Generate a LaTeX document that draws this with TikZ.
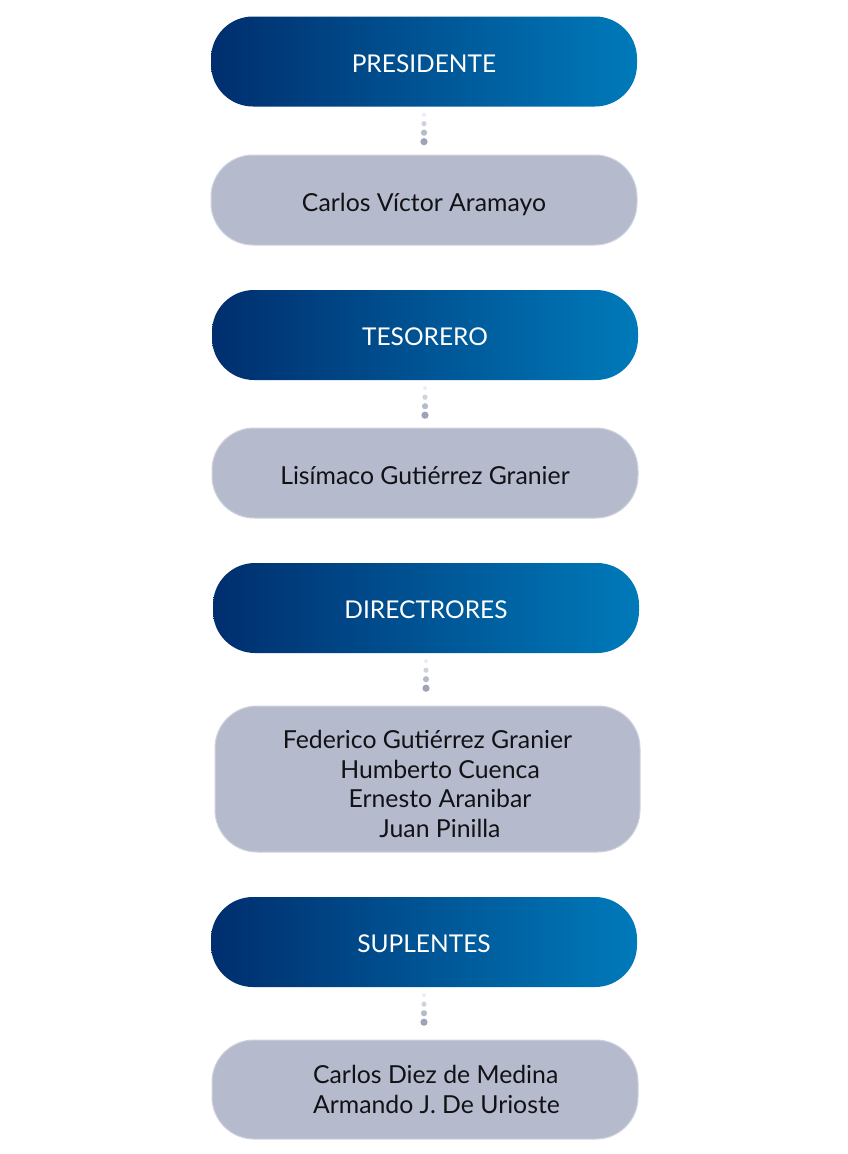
\documentclass[tikz,border=0pt]{standalone}
\usepackage{fontspec}
\setmainfont{Lato}
\usetikzlibrary{calc}
\definecolor{navyL}{RGB}{0,46,110}
\definecolor{blueR}{RGB}{0,122,186}
\definecolor{boxgray}{RGB}{181,186,205}
\definecolor{boxedge}{RGB}{208,211,222}
\definecolor{txtc}{RGB}{18,18,22}
\definecolor{dotA}{RGB}{236,237,241}
\definecolor{dotB}{RGB}{208,211,221}
\definecolor{dotC}{RGB}{182,186,202}
\definecolor{dotD}{RGB}{158,163,184}
\newcommand\linkdots[2]{%
  \fill[dotA] ($(#1.south)+(0,-8)$) circle (2);
  \fill[dotB] ($(#1.south)+(0,-17)$) circle (2.6);
  \fill[dotC] ($(#1.south)+(0,-26)$) circle (3.1);
  \fill[dotD] ($(#1.south)+(0,-35)$) circle (3.6);
}
\begin{document}
\begin{tikzpicture}[x=1pt,y=1pt,
  headbox/.style={rounded corners=42pt, minimum width=426pt, minimum height=90pt,
    inner sep=0pt, left color=navyL, right color=blueR, text=white,
    text height=21pt, text depth=0pt,
    font=\fontsize{24.5}{29.5}\selectfont},
  namebox/.style={rounded corners=42pt, minimum width=426pt, minimum height=90pt,
    inner sep=0pt, fill=boxgray, draw=boxedge, line width=1pt, text=txtc,
    text height=22pt, text depth=0pt,
    font=\fontsize{24.8}{29.5}\selectfont},
  nametext/.style={inner sep=0pt, text=txtc, font=\fontsize{24.8}{29.5}\selectfont}
]
\useasboundingbox (0,0) rectangle (848,-1154);

\node[headbox] (pres) at (424,-61.5) {PRESIDENTE};
\node[namebox] (presn) at (424,-200) {Carlos Víctor Aramayo};
\linkdots{pres}{presn}

\node[headbox] (tes) at (425,-335) {TESORERO};
\node[namebox] (tesn) at (425,-473) {Lisímaco Gutiérrez Granier};
\linkdots{tes}{tesn}

\node[headbox] (dir) at (426,-608) {DIRECTRORES};
\node[namebox, minimum width=425pt, minimum height=146pt] (dirn) at (427.5,-779) {};
\node[nametext, align=center] (dirt) at ([yshift=-5pt]dirn.center) {Federico Gutiérrez Granier\\
\hspace*{25pt}Humberto Cuenca\\
\hspace*{25pt}Ernesto Aranibar\\
\hspace*{25pt}Juan Pinilla};
\linkdots{dir}{dirn}

\node[headbox] (sup) at (424,-942) {SUPLENTES};
\node[namebox, minimum height=99pt] (supn) at (425,-1089.5) {};
\node[nametext, align=left] (supt) at ([xshift=11.5pt]supn.center) {Carlos Diez de Medina\\Armando J. De Urioste};
\linkdots{sup}{supn}
\end{tikzpicture}
\end{document}
